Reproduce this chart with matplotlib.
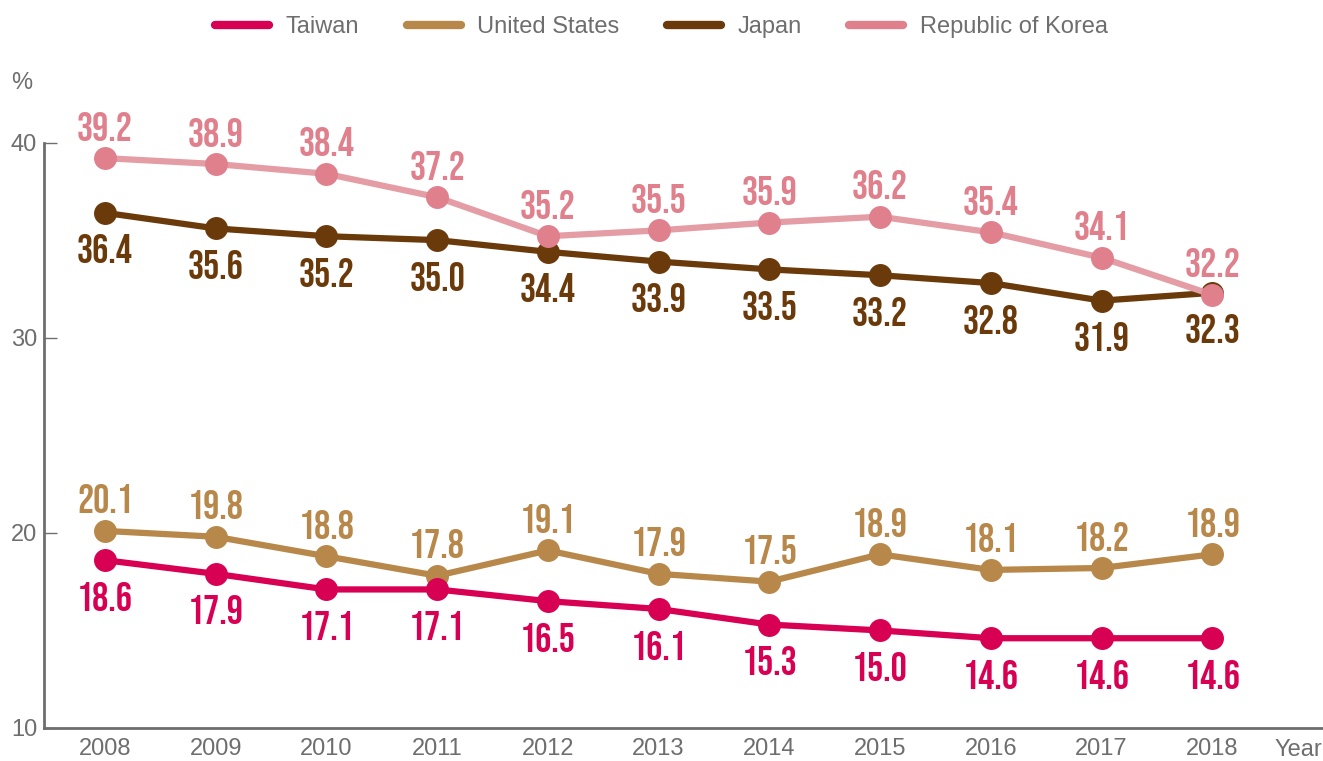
import matplotlib.pyplot as plt
from matplotlib import font_manager

years = [2008, 2009, 2010, 2011, 2012, 2013, 2014, 2015, 2016, 2017, 2018]
taiwan = [18.6, 17.9, 17.1, 17.1, 16.5, 16.1, 15.3, 15.0, 14.6, 14.6, 14.6]
united_states = [20.1, 19.8, 18.8, 17.8, 19.1, 17.9, 17.5, 18.9, 18.1, 18.2, 18.9]
japan = [36.4, 35.6, 35.2, 35.0, 34.4, 33.9, 33.5, 33.2, 32.8, 31.9, 32.3]
korea = [39.2, 38.9, 38.4, 37.2, 35.2, 35.5, 35.9, 36.2, 35.4, 34.1, 32.2]
y_ticks = [10, 20, 30, 40]

# pick a tall narrow font for the value labels
names = {f.name for f in font_manager.fontManager.ttflist}
label_font = 'DejaVu Sans'
for cand in ['Bebas Neue', 'Oswald', 'Antonio', 'League Gothic', 'Fjalla One',
             'Pathway Gothic One', 'Roboto Condensed']:
    if cand in names:
        label_font = cand
        break
plt.rcParams['font.family'] = ['Liberation Sans', 'DejaVu Sans']

gray = '#6e6e6e'
series = [
    # name, values, line colour, marker colour, label position, draw order
    ('United States', united_states, '#b8874a', '#b8874a', 'above', 2),
    ('Taiwan', taiwan, '#d80052', '#d80052', 'below', 3),
    ('Japan', japan, '#6b3a0a', '#6b3a0a', 'below', 4),
    ('Republic of Korea', korea, '#e49ca5', '#df808c', 'above', 5),
]

fig = plt.figure(figsize=(13.23, 7.61), dpi=100)
ax = fig.add_axes([44 / 1323, 33 / 761, 1 - 44 / 1323, (728 - 84) / 761])

handles = {}
for name, vals, lc, mc, pos, z in series:
    line, = ax.plot(years, vals, color=lc, lw=4.5, marker='o', ms=15.5,
                    markerfacecolor=mc, markeredgecolor=mc, zorder=z,
                    solid_capstyle='round')
    handles[name] = line
    for x, v in zip(years, vals):
        dy = 23 if pos == 'above' else -26
        ax.annotate(f'{v:.1f}', (x, v), xytext=(0, dy), textcoords='offset points',
                    ha='center', va='center', fontsize=29, fontweight='bold',
                    fontfamily=label_font, color=mc, zorder=6)

ax.set_xlim(2007.45, 2019.0)
ax.set_ylim(10, 43)
ax.set_xticks(years)
ax.set_yticks(y_ticks)
for s in ['top', 'right']:
    ax.spines[s].set_visible(False)
ax.spines['left'].set_bounds(10, 40)
for s in ['left', 'bottom']:
    ax.spines[s].set_color(gray)
    ax.spines[s].set_linewidth(2)
ax.tick_params(axis='y', direction='in', length=9, width=1, color=gray,
               labelsize=17, labelcolor=gray, pad=5)
ax.tick_params(axis='x', length=0, labelsize=17, labelcolor=gray, pad=7)

fig.text(22 / 1323, 1 - 83 / 761, '%', fontsize=17, color=gray, ha='center', va='center')
fig.text(1298 / 1323, 1 - 750 / 761, 'Year', fontsize=17, color=gray, ha='center', va='center')

order = ['Taiwan', 'United States', 'Japan', 'Republic of Korea']
leg_lines = [plt.Line2D([], [], color=handles[n].get_markerfacecolor(), lw=6,
                        solid_capstyle='round') for n in order]
fig.legend(leg_lines, order, loc='center', bbox_to_anchor=(0.5, 1 - 27 / 761),
           ncol=4, frameon=False, fontsize=17, labelcolor=gray, handlelength=2.3,
           columnspacing=2.0, handletextpad=0.7)

fig.savefig('out.png', dpi=100)
